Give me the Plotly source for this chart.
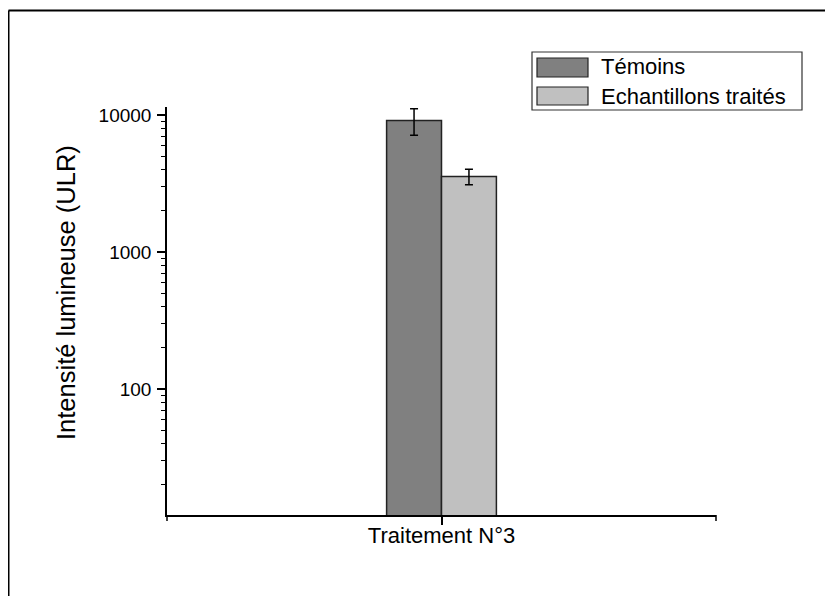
import plotly.graph_objects as go

categories = ["Traitement N°3"]
series_names = ["Témoins", "Echantillons traités"]
temoins = [9100]
temoins_err = [2000]
traites = [3550]
traites_err = [460]
y_ticks = [100, 1000, 10000]
y_ticklabels = ["100", "1000", "10000"]
colors = ["#808080", "#c0c0c0"]

FONT = "Arial, Liberation Sans, sans-serif"

fig = go.Figure()
for name, vals, errs, col in [(series_names[0], temoins, temoins_err, colors[0]),
                              (series_names[1], traites, traites_err, colors[1])]:
    fig.add_trace(go.Bar(
        x=categories, y=vals, name=name,
        marker=dict(color=col, line=dict(color="#222222", width=1.5)),
        error_y=dict(type="data", array=errs, visible=True, color="black",
                     thickness=1.5, width=4),
        showlegend=False,
    ))

OFF = 8  # page body margin
W, H = 833 - OFF, 596 - OFF
# target page-pixel plot area: x 167..716, y 107..515
L = 167 - OFF
T = 107 - OFF
pw = 716 - 167
ph = 515 - 107
R = W - L - pw
B = H - T - ph

def px(X):
    return (X - 167) / pw

def py(Y):
    return (515 - Y) / ph

shapes = []
# outer frame (top and left edges)
shapes.append(dict(type="line", xref="paper", yref="paper", x0=px(8.5), x1=px(850),
                   y0=py(10.5), y1=py(10.5), line=dict(color="black", width=2)))
shapes.append(dict(type="line", xref="paper", yref="paper", x0=px(8.5), x1=px(8.5),
                   y0=py(10.5), y1=py(620), line=dict(color="black", width=2)))
# x-axis end ticks
for xe in [0, 1]:
    shapes.append(dict(type="line", xref="paper", yref="paper", ysizemode="pixel", yanchor=0,
                       x0=xe, x1=xe, y0=0, y1=-6, line=dict(color="black", width=1.5)))
# legend box
shapes.append(dict(type="rect", xref="paper", yref="paper", x0=px(532), x1=px(802),
                   y0=py(52), y1=py(110), line=dict(color="#333333", width=1.2),
                   fillcolor="white"))
legend_rows = [(58, 77, 67), (87, 105, 96)]
annotations = []
for (ya, yb, yc), col, name in zip(legend_rows, colors, series_names):
    shapes.append(dict(type="rect", xref="paper", yref="paper", x0=px(537), x1=px(588),
                       y0=py(ya), y1=py(yb), line=dict(color="#222222", width=1.2),
                       fillcolor=col))
    annotations.append(dict(xref="paper", yref="paper", x=px(599), y=py(yc), text=name,
                            showarrow=False, xanchor="left", yanchor="middle",
                            font=dict(family=FONT, size=22, color="black")))

annotations.append(dict(xref="paper", yref="paper", x=px(66), y=py(293),
                        text="Intensité lumineuse (ULR)", textangle=-90, showarrow=False,
                        xanchor="center", yanchor="middle",
                        font=dict(family=FONT, size=25.5, color="black")))

fig.update_layout(
    width=W, height=H,
    margin=dict(l=L, r=R, t=T, b=B, pad=0),
    paper_bgcolor="white", plot_bgcolor="white",
    barmode="group", bargap=0.6, bargroupgap=0,
    font=dict(family=FONT, color="black"),
    shapes=shapes, annotations=annotations,
    xaxis=dict(type="category", range=[-1, 1], showline=True, linecolor="black", linewidth=1.5,
               ticks="outside", ticklen=8, tickwidth=1.5, tickcolor="black",
               ticklabelstandoff=-8,
               tickfont=dict(size=22, family=FONT), showgrid=False, zeroline=False),
    yaxis=dict(type="log", range=[1.080, 4.058], showline=True, linecolor="black", linewidth=1.5,
               ticks="outside", ticklen=8, tickwidth=1.5, tickcolor="black",
               tickvals=y_ticks, ticktext=y_ticklabels, ticklabelstandoff=2,
               tickfont=dict(size=19, family=FONT), showgrid=False, zeroline=False,
               minor=dict(ticks="outside", ticklen=4, tickwidth=1.2, tickcolor="black",
                          showgrid=False, dtick="D1")),
)

fig.write_html("out.html")
